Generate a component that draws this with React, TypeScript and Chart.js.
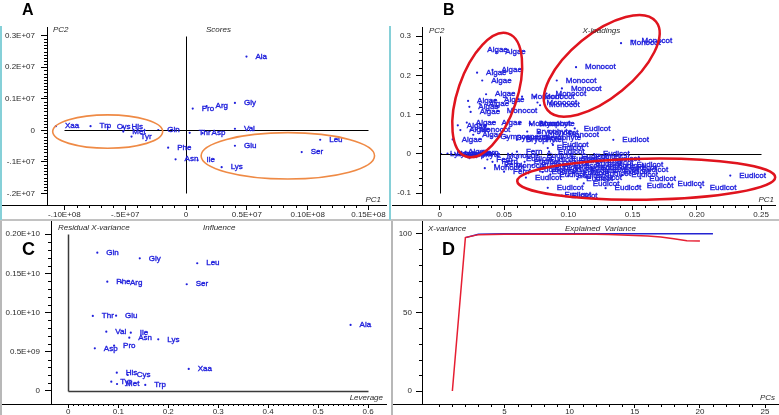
import React, { useEffect, useRef } from 'react';
import { Chart, registerables } from 'chart.js';
Chart.register(...registerables);

const FONT = "'Liberation Sans', Arial, Helvetica, sans-serif";
const BLUE = '#2020dc';
const AXIS_TEXT = '#2a2a2a';

// ---------- Panel A: Scores (values ×1e6) ----------
const aminoAcids = ['Ala', 'Arg', 'Asn', 'Asp', 'Cys', 'Gln', 'Glu', 'Gly', 'His', 'Ile', 'Leu', 'Lys', 'Met', 'Phe', 'Pro', 'Ser', 'Thr', 'Trp', 'Tyr', 'Val', 'Xaa'];
const scoresPC1 = [4.97, 1.69, -0.86, 1.36, -6.44, -2.28, 4.02, 4.02, -5.22, 0.95, 11.03, 2.93, -5.16, -1.47, 0.55, 9.51, 0.30, -7.85, -4.48, 4.02, -10.7];
const scoresPC2 = [2.34, 0.77, -0.92, -0.09, 0.10, 0.01, -0.49, 0.87, 0.10, -0.95, -0.30, -1.17, -0.04, -0.55, 0.69, -0.69, -0.08, 0.13, -0.20, 0.05, 0.13];
const scoresXTicks = [-10, -5, 0, 5, 10, 15];
const scoresXTickLabels = ['-.10E+08', '-.5E+07', '0', '0.5E+07', '0.10E+08', '0.15E+08'];
const scoresYTicks = [-2, -1, 0, 1, 2, 3];
const scoresYTickLabels = ['-.2E+07', '-.1E+07', '0', '0.1E+07', '0.2E+07', '0.3E+07'];

// ---------- Panel B: X-loadings ----------
const algaeLoadings = [[0.030, 0.266], [0.044, 0.260], [0.029, 0.207], [0.041, 0.214], [0.033, 0.187], [0.036, 0.152], [0.022, 0.135], [0.043, 0.137], [0.023, 0.120], [0.031, 0.128], [0.024, 0.107], [0.021, 0.080], [0.041, 0.080], [0.014, 0.073], [0.016, 0.061], [0.010, 0.037], [0.015, 0.006], [0.026, 0.049]];
const monocotLoadings = [[0.141, 0.282], [0.150, 0.288], [0.106, 0.221], [0.091, 0.187], [0.095, 0.167], [0.083, 0.154], [0.064, 0.146], [0.074, 0.146], [0.076, 0.131], [0.078, 0.124], [0.045, 0.110], [0.071, 0.076], [0.093, 0.048], [0.077, 0.054], [0.024, 0.061], [0.035, -0.036], [0.009, 0.000], [0.045, -0.005], [0.062, 0.078], [0.052, -0.030]];
const eudicotLoadings = [[0.135, 0.036], [0.105, 0.065], [0.226, -0.055], [0.203, -0.085], [0.178, -0.075], [0.154, -0.081], [0.129, -0.087], [0.084, -0.086], [0.090, -0.104], [0.095, -0.106], [0.112, -0.075], [0.121, -0.051], [0.142, -0.053], [0.156, -0.062], [0.067, -0.060], [0.107, -0.064], [0.114, -0.060], [0.114, -0.007], [0.103, -0.007], [0.088, 0.023], [0.084, 0.015], [0.085, 0.006], [0.060, -0.012], [0.066, -0.020], [0.072, -0.028], [0.078, -0.016], [0.082, -0.034], [0.088, -0.024], [0.092, -0.040], [0.097, -0.030], [0.101, -0.018], [0.106, -0.036], [0.110, -0.044], [0.114, -0.026], [0.118, -0.034], [0.123, -0.022], [0.127, -0.040], [0.131, -0.030], [0.136, -0.046], [0.141, -0.036], [0.146, -0.028], [0.150, -0.040], [0.080, -0.046], [0.086, -0.052], [0.100, -0.056], [0.104, -0.048], [0.070, -0.040], [0.076, -0.004], [0.095, -0.012], [0.128, -0.012], [0.120, 0.000]];
const bryophyteLoadings = [[0.070, 0.078], [0.068, 0.057], [0.060, 0.036], [0.075, 0.040]];
const gymnospermLoadings = [[0.040, 0.045], [0.052, 0.042]];
const fernLoadings = [[0.041, -0.020], [0.043, -0.028], [0.037, -0.014], [0.060, 0.006], [0.026, 0.004], [0.050, -0.045]];
const lycophyteLoadings = [[0.001, 0.000], [0.006, 0.001], [0.012, -0.001]];
const loadingsXTicks = [0, 0.05, 0.1, 0.15, 0.2, 0.25];
const loadingsXTickLabels = ['0', '0.05', '0.10', '0.15', '0.20', '0.25'];
const loadingsYTicks = [-0.1, 0, 0.1, 0.2, 0.3];
const loadingsYTickLabels = ['-0.1', '0', '0.1', '0.2', '0.3'];

// ---------- Panel C: Influence (residual ×1e9) ----------
const leverage = [0.565, 0.1055, 0.122, 0.053, 0.119, 0.058, 0.0956, 0.143, 0.097, 0.125, 0.258, 0.180, 0.0975, 0.078, 0.0916, 0.237, 0.049, 0.154, 0.086, 0.076, 0.241];
const residualXVariance = [0.842, 1.385, 0.680, 0.544, 0.204, 1.764, 0.96, 1.692, 0.234, 0.744, 1.629, 0.659, 0.089, 1.394, 0.578, 1.361, 0.957, 0.077, 0.119, 0.757, 0.281];
const influenceXTicks = [0, 0.1, 0.2, 0.3, 0.4, 0.5, 0.6];
const influenceXTickLabels = ['0', '0.1', '0.2', '0.3', '0.4', '0.5', '0.6'];
const influenceYTicks = [0, 0.5, 1.0, 1.5, 2.0];
const influenceYTickLabels = ['0', '0.5E+09', '0.10E+10', '0.15E+10', '0.20E+10'];

// ---------- Panel D: Explained variance ----------
const pcsValidation = [1, 2, 3, 4, 5, 6, 7, 8, 9, 10, 11, 12, 13, 14, 15, 16, 17, 18, 19, 20];
const explainedValidation = [0, 97.5, 99.4, 99.5, 99.6, 99.6, 99.6, 99.6, 99.6, 99.6, 99.6, 99.6, 99.5, 99.2, 98.9, 98.5, 97.9, 96.8, 95.5, 95.3];
const pcsCalibration = [2, 3, 4, 5, 6, 7, 8, 9, 10, 11, 12, 13, 14, 15, 16, 17, 18, 19, 20, 21];
const explainedCalibration = [97.5, 99.6, 99.8, 100, 100, 100, 100, 100, 100, 100, 100, 100, 100, 100, 100, 100, 100, 100, 100, 100];
const varianceXTicks = [5, 10, 15, 20, 25];
const varianceXTickLabels = ['5', '10', '15', '20', '25'];
const varianceYTicks = [0, 50, 100];
const varianceYTickLabels = ['0', '50', '100'];

function makeScale(axis: 'x' | 'y', min: number, max: number, ticks: number[], labels: string[], size: number, tickLen: number, pad: number) {
  return {
    type: 'linear',
    position: axis === 'x' ? 'bottom' : 'left',
    min,
    max,
    afterBuildTicks: (s: any) => {
      s.ticks = ticks.map((v) => ({ value: v }));
    },
    afterFit: (s: any) => {
      if (axis === 'x') s.height = size;
      else s.width = size;
    },
    ticks: {
      autoSkip: false,
      maxRotation: 0,
      minRotation: 0,
      padding: pad,
      color: AXIS_TEXT,
      font: { family: FONT, size: 8 },
      callback: (_v: any, i: number) => labels[i] ?? '',
    },
    grid: { drawOnChartArea: false, drawTicks: true, tickLength: tickLen, color: '#000', tickColor: '#000', lineWidth: 1 },
    border: { display: true, color: '#000', width: 1 },
  };
}

type Minor = { step: number; from: number; to: number; len: number };
type Deco = {
  minorX: Minor;
  minorY: Minor;
  majorX: number[];
  majorY: number[];
  axisFrom: number;
  lines?: { x1: number; y1: number; x2: number; y2: number; color: string; width: number }[];
  ellipses?: { cx: number; cy: number; rx: number; ry: number; rot: number; color: string; width: number }[];
  labelSets?: { ds: number; labels: string[] }[];
  titles: { text: string; x: number; y: number; align: CanvasTextAlign }[];
};

function decoPlugin(d: Deco) {
  return {
    id: 'deco',
    afterDraw(chart: any) {
      const ctx: CanvasRenderingContext2D = chart.ctx;
      const xs = chart.scales.x;
      const ys = chart.scales.y;
      const ca = chart.chartArea;
      ctx.save();
      ctx.strokeStyle = '#000';
      ctx.lineWidth = 1;
      const yAxisPix = Math.round(ca.bottom) + 0.5;
      ctx.beginPath();
      ctx.moveTo(d.axisFrom, yAxisPix);
      ctx.lineTo(ca.left, yAxisPix);
      ctx.stroke();
      const drawMinor = (scale: any, m: Minor, majors: number[], horiz: boolean) => {
        const n0 = Math.round(m.from / m.step);
        const n1 = Math.round(m.to / m.step);
        ctx.beginPath();
        for (let i = n0; i <= n1; i++) {
          const v = i * m.step;
          if (majors.some((mv) => Math.abs(mv - v) < m.step * 0.01)) continue;
          const p = Math.round(scale.getPixelForValue(v)) + 0.5;
          if (horiz) {
            ctx.moveTo(p, ca.bottom);
            ctx.lineTo(p, ca.bottom + m.len);
          } else {
            ctx.moveTo(ca.left - m.len, p);
            ctx.lineTo(ca.left, p);
          }
        }
        ctx.stroke();
      };
      drawMinor(xs, d.minorX, d.majorX, true);
      drawMinor(ys, d.minorY, d.majorY, false);
      (d.lines || []).forEach((l) => {
        ctx.strokeStyle = l.color;
        ctx.lineWidth = l.width;
        ctx.beginPath();
        ctx.moveTo(Math.round(xs.getPixelForValue(l.x1)) + 0.5, Math.round(ys.getPixelForValue(l.y1)) + 0.5);
        ctx.lineTo(Math.round(xs.getPixelForValue(l.x2)) + 0.5, Math.round(ys.getPixelForValue(l.y2)) + 0.5);
        ctx.stroke();
      });
      ctx.font = `8px ${FONT}`;
      ctx.fillStyle = BLUE;
      ctx.strokeStyle = BLUE;
      ctx.lineWidth = 0.35;
      ctx.textAlign = 'left';
      ctx.textBaseline = 'middle';
      (d.labelSets || []).forEach((ls) => {
        const meta = chart.getDatasetMeta(ls.ds);
        meta.data.forEach((el: any, j: number) => {
          ctx.fillText(ls.labels[j], el.x + 9, el.y);
          ctx.strokeText(ls.labels[j], el.x + 9, el.y);
        });
      });
      (d.ellipses || []).forEach((e) => {
        ctx.strokeStyle = e.color;
        ctx.lineWidth = e.width;
        ctx.beginPath();
        ctx.ellipse(xs.getPixelForValue(e.cx), ys.getPixelForValue(e.cy), e.rx, e.ry, e.rot, 0, Math.PI * 2);
        ctx.stroke();
      });
      ctx.font = `italic 8px ${FONT}`;
      ctx.fillStyle = '#2a2a2a';
      d.titles.forEach((t) => {
        ctx.textAlign = t.align;
        ctx.fillText(t.text, t.x, t.y);
      });
      ctx.restore();
    },
  };
}

function toPoints(pairs: number[][]) {
  return pairs.map((p) => ({ x: p[0], y: p[1] }));
}

function scatterSet(data: { x: number; y: number }[]) {
  return { data, pointRadius: 1.1, pointBackgroundColor: BLUE, pointBorderWidth: 0, showLine: false };
}

function baseOptions(padding: any, scales: any) {
  return {
    responsive: false,
    animation: false,
    events: [],
    layout: { padding },
    plugins: { legend: { display: false }, tooltip: { enabled: false }, title: { display: false } },
    scales,
  };
}

function useChart(ref: React.RefObject<HTMLCanvasElement>, build: () => any) {
  useEffect(() => {
    if (!ref.current) return;
    const chart = new Chart(ref.current, build());
    return () => chart.destroy();
  }, []);
}

export default function App() {
  const refA = useRef<HTMLCanvasElement>(null);
  const refB = useRef<HTMLCanvasElement>(null);
  const refC = useRef<HTMLCanvasElement>(null);
  const refD = useRef<HTMLCanvasElement>(null);

  useChart(refA, () => ({
    type: 'scatter',
    data: { datasets: [scatterSet(scoresPC1.map((x, i) => ({ x, y: scoresPC2[i] })))] },
    options: baseOptions({ top: 27, right: 1, left: 0, bottom: 0 }, {
      x: makeScale('x', -11.43, 16.44, scoresXTicks, scoresXTickLabels, 15, 5, 0),
      y: makeScale('y', -2.371, 3.279, scoresYTicks, scoresYTickLabels, 47, 6, 6),
    }),
    plugins: [decoPlugin({
      minorX: { step: 1, from: -10, to: 15, len: 3 },
      minorY: { step: 0.1, from: -2, to: 3, len: 3 },
      majorX: scoresXTicks,
      majorY: scoresYTicks,
      axisFrom: 2,
      lines: [
        { x1: 0, y1: -2, x2: 0, y2: 3, color: '#000', width: 1 },
        { x1: -10, y1: 0, x2: 15, y2: 0, color: '#000', width: 1 },
      ],
      ellipses: [
        { cx: -6.44, cy: -0.04, rx: 55, ry: 16.7, rot: 0, color: '#ef8a45', width: 1.6 },
        { cx: 8.37, cy: -0.81, rx: 86.7, ry: 23.2, rot: 0, color: '#ef8a45', width: 1.6 },
      ],
      labelSets: [{ ds: 0, labels: aminoAcids }],
      titles: [
        { text: 'PC2', x: 53, y: 30, align: 'left' },
        { text: 'Scores', x: 206, y: 30, align: 'left' },
        { text: 'PC1', x: 381, y: 200, align: 'right' },
      ],
    })],
  }));

  const groups: [string, number[][]][] = [
    ['Algae', algaeLoadings],
    ['Monocot', monocotLoadings],
    ['Eudicot', eudicotLoadings],
    ['Bryophyte', bryophyteLoadings],
    ['Gymnosperm', gymnospermLoadings],
    ['Fern', fernLoadings],
    ['Lycophyte', lycophyteLoadings],
  ];

  useChart(refB, () => ({
    type: 'scatter',
    data: { datasets: groups.map((g) => scatterSet(toPoints(g[1]))) },
    options: baseOptions({ top: 27, right: 0, left: 0, bottom: 0 }, {
      x: makeScale('x', -0.01385, 0.2608, loadingsXTicks, loadingsXTickLabels, 15, 5, 0),
      y: makeScale('y', -0.1298, 0.3232, loadingsYTicks, loadingsYTickLabels, 32, 6, 5),
    }),
    plugins: [decoPlugin({
      minorX: { step: 0.01, from: 0, to: 0.25, len: 3 },
      minorY: { step: 0.02, from: -0.1, to: 0.3, len: 3 },
      majorX: loadingsXTicks,
      majorY: loadingsYTicks,
      axisFrom: 2,
      lines: [
        { x1: 0, y1: -0.1, x2: 0, y2: 0.3, color: '#000', width: 1 },
        { x1: 0, y1: 0, x2: 0.25, y2: 0, color: '#000', width: 1 },
      ],
      ellipses: [
        { cx: 0.0369, cy: 0.150, rx: 29.5, ry: 65, rot: 0.33, color: '#e0141e', width: 2.5 },
        { cx: 0.126, cy: 0.2244, rx: 70, ry: 32, rot: -0.686, color: '#e0141e', width: 2.5 },
        { cx: 0.1606, cy: -0.0641, rx: 129, ry: 20.5, rot: -0.015, color: '#e0141e', width: 2.5 },
      ],
      labelSets: groups.map((g, i) => ({ ds: i, labels: g[1].map(() => g[0]) })),
      titles: [
        { text: 'PC2', x: 39, y: 30.5, align: 'left' },
        { text: 'X-loadings', x: 192.5, y: 30.5, align: 'left' },
        { text: 'PC1', x: 384, y: 200, align: 'right' },
      ],
    })],
  }));

  useChart(refC, () => ({
    type: 'scatter',
    data: { datasets: [scatterSet(leverage.map((x, i) => ({ x, y: residualXVariance[i] })))] },
    options: baseOptions({ top: 21, right: 1, left: 0, bottom: 0 }, {
      x: makeScale('x', -0.0347, 0.6359, influenceXTicks, influenceXTickLabels, 11, 4, -1),
      y: makeScale('y', -0.166, 2.168, influenceYTicks, influenceYTickLabels, 51, 6, 5),
    }),
    plugins: [decoPlugin({
      minorX: { step: 0.01, from: 0, to: 0.6, len: 2 },
      minorY: { step: 0.1, from: 0, to: 2, len: 3 },
      majorX: influenceXTicks,
      majorY: influenceYTicks,
      axisFrom: 2,
      lines: [
        { x1: 0, y1: 0, x2: 0, y2: 2, color: '#3a3a3a', width: 1.5 },
        { x1: 0, y1: 0, x2: 0.6, y2: 0, color: '#3a3a3a', width: 1.5 },
      ],
      labelSets: [{ ds: 0, labels: aminoAcids }],
      titles: [
        { text: 'Residual X-variance', x: 58, y: 28, align: 'left' },
        { text: 'Influence', x: 203, y: 28, align: 'left' },
        { text: 'Leverage', x: 383, y: 198, align: 'right' },
      ],
    })],
  }));

  useChart(refD, () => ({
    type: 'scatter',
    data: {
      datasets: [
        { data: pcsValidation.map((x, i) => ({ x, y: explainedValidation[i] })), showLine: true, borderColor: '#e61e32', borderWidth: 1.5, pointRadius: 0, tension: 0 },
        { data: pcsCalibration.map((x, i) => ({ x, y: explainedCalibration[i] })), showLine: true, borderColor: '#2424d2', borderWidth: 1.5, pointRadius: 0, tension: 0 },
      ],
    },
    options: baseOptions({ top: 21, right: 0, left: 0, bottom: 0 }, {
      x: makeScale('x', -1.33, 26.07, varianceXTicks, varianceXTickLabels, 11, 4, -1),
      y: makeScale('y', -8.25, 108.06, varianceYTicks, varianceYTickLabels, 32, 6, 4),
    }),
    plugins: [decoPlugin({
      minorX: { step: 1, from: 0, to: 25, len: 3 },
      minorY: { step: 10, from: 0, to: 100, len: 3 },
      majorX: varianceXTicks,
      majorY: varianceYTicks,
      axisFrom: 3,
      titles: [
        { text: 'X-variance', x: 38, y: 28.5, align: 'left' },
        { text: 'Explained  Variance', x: 175, y: 28.5, align: 'left' },
        { text: 'PCs', x: 385, y: 198, align: 'right' },
      ],
    })],
  }));

  const abs = (l: number, t: number, w: number, h: number, extra: any = {}) => ({ position: 'absolute' as const, left: l, top: t, width: w, height: h, ...extra });
  const letter = (txt: string, l: number, t: number, size: number) => (
    <div style={{ position: 'absolute', left: l, top: t, fontFamily: FONT, fontWeight: 'bold', fontSize: size, lineHeight: `${size}px`, color: '#000' }}>{txt}</div>
  );

  return (
    <div style={{ position: 'fixed', left: 0, top: 0, width: 779, height: 415, background: '#fff', overflow: 'hidden' }}>
      <canvas ref={refA} width={390} height={220} style={abs(0, 0, 390, 220)} />
      <canvas ref={refB} width={389} height={220} style={abs(390, 0, 389, 220)} />
      <canvas ref={refC} width={390} height={215} style={abs(0, 200, 390, 215)} />
      <canvas ref={refD} width={389} height={215} style={abs(390, 200, 389, 215)} />
      <div style={abs(0, 219, 779, 2, { background: '#c2c2c2' })} />
      <div style={abs(0, 26, 2, 194, { background: '#86d0d8' })} />
      <div style={abs(389, 26, 2, 194, { background: '#86d0d8' })} />
      <div style={abs(0, 221, 2, 194, { background: '#b8b8b8' })} />
      <div style={abs(391, 221, 2, 194, { background: '#b8b8b8' })} />
      {letter('A', 22, 2, 16)}
      {letter('B', 443, 2, 16)}
      {letter('C', 22, 240, 18)}
      {letter('D', 442, 240, 18)}
    </div>
  );
}
